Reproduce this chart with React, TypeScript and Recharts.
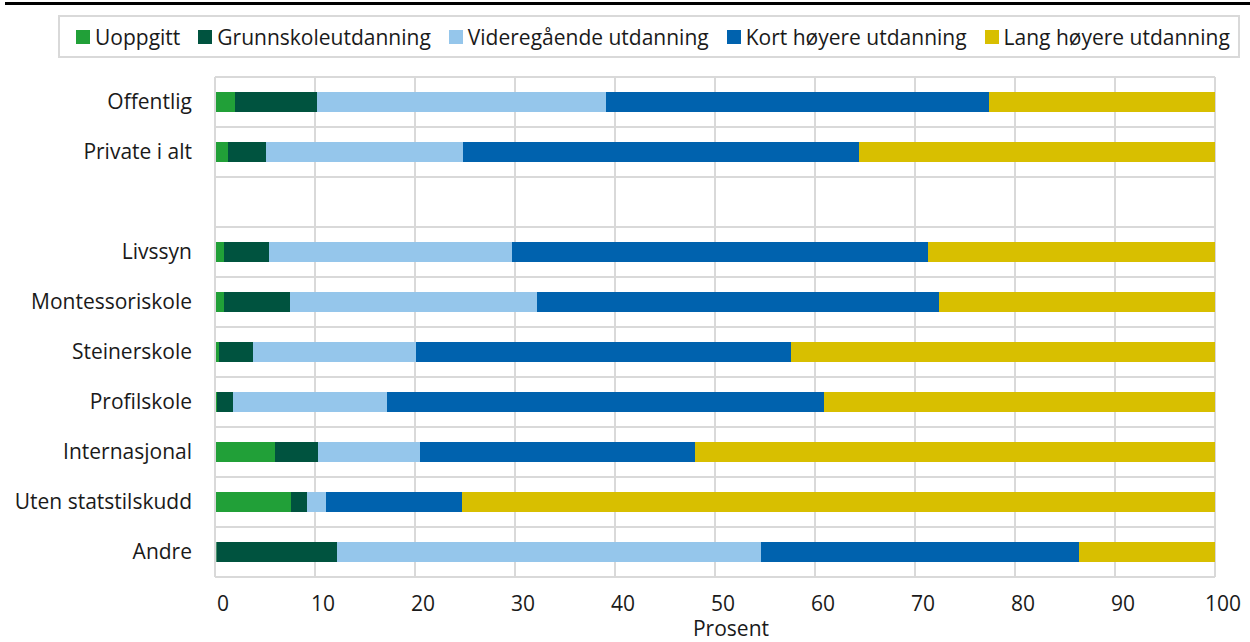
import { BarChart, Bar, XAxis, YAxis, CartesianGrid, Label } from 'recharts'

const categories = [
  'Offentlig',
  'Private i alt',
  '',
  'Livssyn',
  'Montessoriskole',
  'Steinerskole',
  'Profilskole',
  'Internasjonal',
  'Uten statstilskudd',
  'Andre',
]

const uoppgitt = [2.0, 1.3, null, 0.9, 0.9, 0.4, 0.2, 6.0, 7.6, 0.15]
const grunnskole = [8.2, 3.8, null, 4.5, 6.6, 3.4, 1.6, 4.3, 1.6, 12.05]
const videregaende = [28.9, 19.7, null, 24.3, 24.7, 16.3, 15.4, 10.2, 1.9, 42.4]
const kortHoyere = [38.3, 39.6, null, 41.6, 40.2, 37.5, 43.7, 27.5, 13.6, 31.8]
const langHoyere = [22.6, 35.6, null, 28.7, 27.6, 42.4, 39.1, 52.0, 75.3, 13.6]

const xTicks = [0, 10, 20, 30, 40, 50, 60, 70, 80, 90, 100]

const series = [
  { key: 'uoppgitt', name: 'Uoppgitt', color: '#21a038' },
  { key: 'grunnskole', name: 'Grunnskoleutdanning', color: '#00533f' },
  { key: 'videregaende', name: 'Videregående utdanning', color: '#95c6eb' },
  { key: 'kort', name: 'Kort høyere utdanning', color: '#0062ae' },
  { key: 'lang', name: 'Lang høyere utdanning', color: '#d8bf00' },
]

const data = categories.map((name, i) => ({
  name,
  uoppgitt: uoppgitt[i],
  grunnskole: grunnskole[i],
  videregaende: videregaende[i],
  kort: kortHoyere[i],
  lang: langHoyere[i],
}))

const font = '"Open Sans", sans-serif'
const gridColor = '#d9d9d9'
const fs = 21

export default function App() {
  return (
    <div style={{ position: 'absolute', left: 0, top: 0, width: 1250, height: 642, background: '#fff', fontFamily: font }}>
      <div style={{ position: 'absolute', left: 5, top: 2, width: 1245, height: 3, background: '#000' }} />
      <div
        style={{
          position: 'absolute',
          left: 58,
          top: 15,
          width: 1182,
          height: 43,
          boxSizing: 'border-box',
          border: `2px solid ${gridColor}`,
          display: 'flex',
          alignItems: 'center',
          paddingLeft: 16,
          gap: 18,
          fontSize: fs,
          color: '#1a1a1a',
          whiteSpace: 'nowrap',
        }}
      >
        {series.map((s) => (
          <div key={s.key} style={{ display: 'flex', alignItems: 'center' }}>
            <span style={{ display: 'inline-block', width: 14, height: 14, background: s.color, marginRight: 5 }} />
            <span>{s.name}</span>
          </div>
        ))}
      </div>
      <BarChart
        width={1250}
        height={642}
        data={data}
        layout="vertical"
        margin={{ top: 77, right: 35, bottom: 0, left: 0 }}
        barSize={20}
      >
        <CartesianGrid
          stroke={gridColor}
          strokeWidth={2}
          horizontalCoordinatesGenerator={({ offset }: any) =>
            Array.from({ length: 11 }, (_, i) => offset.top + (i * offset.height) / 10)
          }
        />
        <XAxis
          type="number"
          domain={[0, 100]}
          ticks={xTicks}
          axisLine={false}
          tickLine={false}
          tickSize={0}
          tickMargin={19}
          height={65}
          tick={{ fontSize: fs, fill: '#1a1a1a', fontFamily: font, dx: 8 }}
        >
          <Label
            value="Prosent"
            position="insideBottom"
            offset={6}
            dx={16}
            style={{ fontSize: fs, fill: '#1a1a1a', fontFamily: font }}
          />
        </XAxis>
        <YAxis
          type="category"
          dataKey="name"
          width={215}
          axisLine={{ stroke: gridColor, strokeWidth: 2 }}
          tickLine={false}
          tickSize={0}
          tickMargin={23}
          interval={0}
          tick={{ fontSize: fs, fill: '#1a1a1a', fontFamily: font }}
        />
        {series.map((s) => (
          <Bar key={s.key} dataKey={s.key} name={s.name} stackId="a" fill={s.color} isAnimationActive={false} />
        ))}
      </BarChart>
    </div>
  )
}
